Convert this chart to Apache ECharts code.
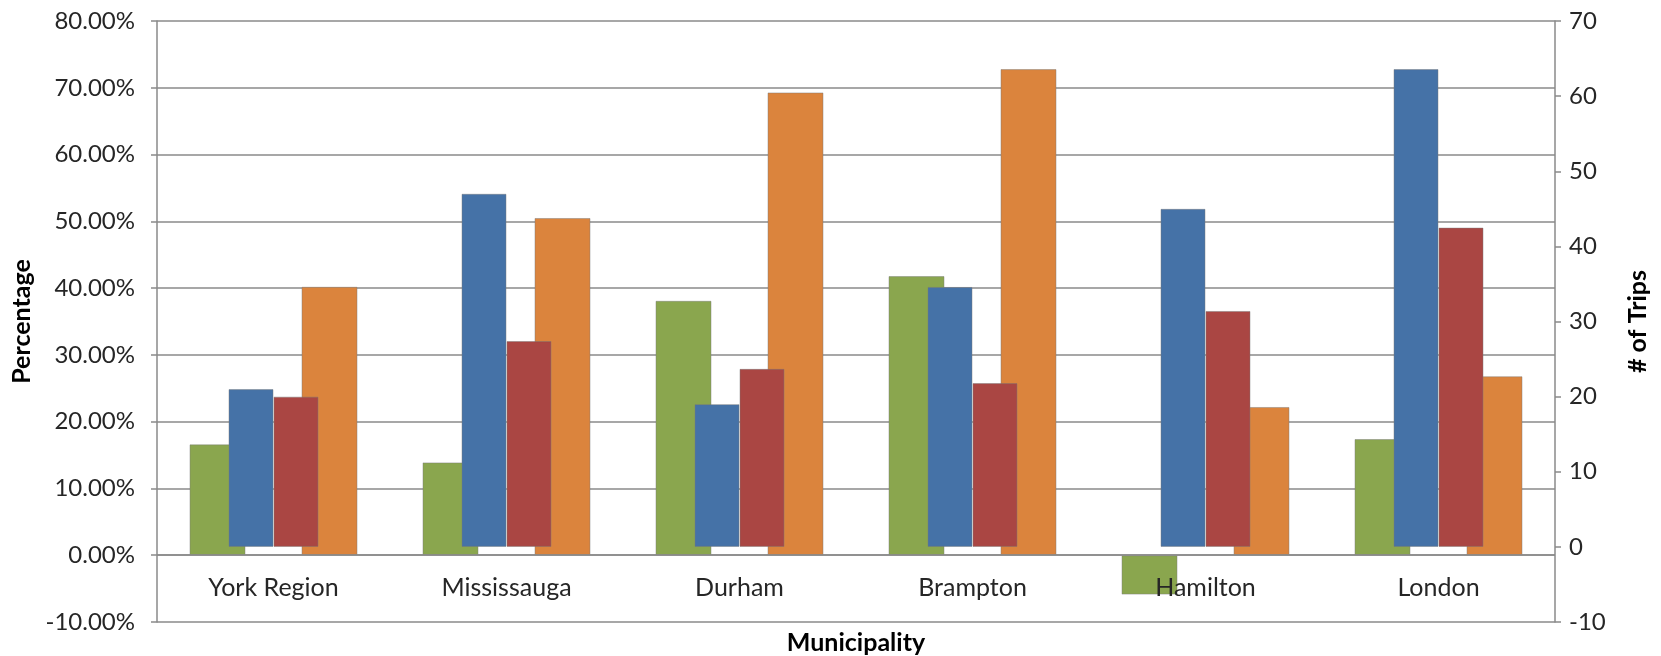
<!DOCTYPE html>
<html>
<head>
<meta charset="utf-8">
<script src="https://cdn.jsdelivr.net/npm/echarts@6/dist/echarts.min.js"></script>
<style>
  html, body { margin: 0; padding: 0; background: #ffffff; }
  #chart { width: 1661px; height: 656px; }
</style>
</head>
<body>
<div id="chart"></div>
<script>
// Municipalities along the category axis
const municipalities = ['York Region', 'Mississauga', 'Durham', 'Brampton', 'Hamilton', 'London'];

// Percentage series (left axis, in %)
const shareGreen = [16.6, 13.9, 38.1, 41.8, -5.9, 17.4];
const shareOrange = [40.2, 50.5, 69.3, 72.8, 22.2, 26.8];

// Trip count series (right axis)
const tripsBlue = [21, 47, 19, 34.6, 45, 63.6];
const tripsRed = [20, 27.4, 23.7, 21.8, 31.4, 42.5];

// Axis ranges
const pctMin = -10, pctMax = 80, pctStep = 10;
const tripMin = -10, tripMax = 70, tripStep = 10;

const gridColor = '#8a8a8a';
const textColor = '#262626';
const font = 'Lato';

const chart = echarts.init(document.getElementById('chart'), null, { renderer: 'canvas' });

const barBorder = { borderColor: 'rgba(120,120,120,0.45)', borderWidth: 1 };

chart.setOption({
  animation: false,
  backgroundColor: '#ffffff',
  grid: { left: 157, right: 106, top: 21, bottom: 34, containLabel: false, outerBoundsMode: 'none' },
  xAxis: [
    {
      // category labels sit just under the 0% line, drawn above the bars
      type: 'category',
      data: municipalities,
      z: 5,
      axisLine: { show: false, onZero: false },
      axisTick: { show: false },
      axisLabel: { color: textColor, fontFamily: font, fontSize: 25, margin: -47 },
      name: 'Municipality',
      nameLocation: 'middle',
      nameGap: 8,
      nameTextStyle: { color: '#000', fontFamily: font, fontWeight: 'bold', fontSize: 25 }
    },
    {
      type: 'category',
      data: municipalities,
      show: false
    }
  ],
  yAxis: [
    {
      type: 'value',
      min: pctMin, max: pctMax, interval: pctStep,
      position: 'left',
      axisLine: { show: true, lineStyle: { color: gridColor, width: 1.5 } },
      axisTick: { show: true, length: 6, lineStyle: { color: gridColor, width: 1.5 } },
      splitLine: { show: true, lineStyle: { color: gridColor, width: 1.5 } },
      axisLabel: {
        color: textColor, fontFamily: font, fontSize: 24, margin: 22,
        formatter: v => v.toFixed(2) + '%'
      },
      name: 'Percentage',
      nameLocation: 'middle',
      nameRotate: 90,
      nameGap: 116,
      nameTextStyle: { color: '#000', fontFamily: font, fontWeight: 'bold', fontSize: 25 }
    },
    {
      type: 'value',
      min: tripMin, max: tripMax, interval: tripStep,
      position: 'right',
      axisLine: { show: true, lineStyle: { color: gridColor, width: 1.5 } },
      axisTick: { show: true, length: 6, lineStyle: { color: gridColor, width: 1.5 } },
      splitLine: { show: false },
      axisLabel: { color: textColor, fontFamily: font, fontSize: 24, margin: 14 },
      name: '# of Trips',
      nameLocation: 'middle',
      nameRotate: 90,
      nameGap: 70,
      nameTextStyle: { color: '#000', fontFamily: font, fontWeight: 'bold', fontSize: 25 }
    }
  ],
  series: [
    {
      name: 'Share A', type: 'bar', xAxisIndex: 0, yAxisIndex: 0,
      data: shareGreen, barWidth: 56, barGap: '100%',
      itemStyle: Object.assign({ color: '#8AA64E' }, barBorder),
      // horizontal axis line at 0%
      markLine: {
        silent: true,
        symbol: 'none',
        label: { show: false },
        lineStyle: { color: gridColor, width: 1.5, type: 'solid' },
        data: [{ yAxis: 0 }]
      }
    },
    {
      name: 'Share B', type: 'bar', xAxisIndex: 0, yAxisIndex: 0,
      data: shareOrange, barWidth: 56, barGap: '100%',
      itemStyle: Object.assign({ color: '#DB843D' }, barBorder)
    },
    {
      name: 'Trips A', type: 'bar', xAxisIndex: 1, yAxisIndex: 1,
      data: tripsBlue, barWidth: 45, barGap: '0%',
      itemStyle: Object.assign({ color: '#4572A7' }, barBorder)
    },
    {
      name: 'Trips B', type: 'bar', xAxisIndex: 1, yAxisIndex: 1,
      data: tripsRed, barWidth: 45, barGap: '0%',
      itemStyle: Object.assign({ color: '#AA4643' }, barBorder)
    }
  ]
});
</script>
</body>
</html>
